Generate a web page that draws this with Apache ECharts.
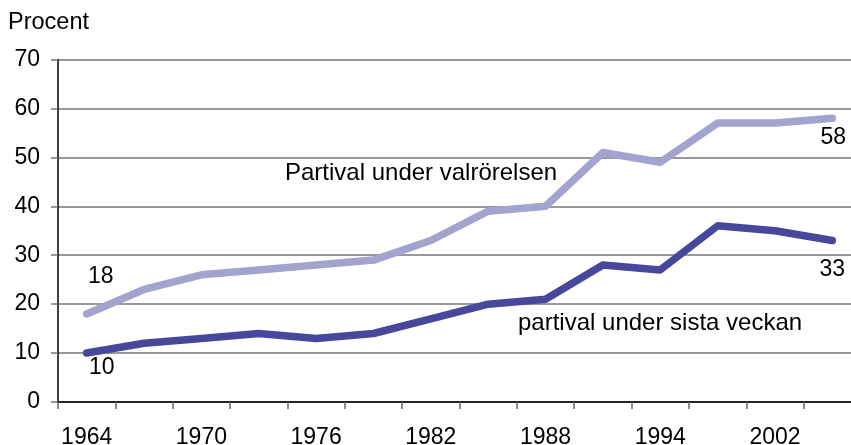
<!DOCTYPE html>
<html>
<head>
<meta charset="utf-8">
<script src="https://cdn.jsdelivr.net/npm/echarts@6/dist/echarts.min.js"></script>
<style>
	html, body { margin: 0; padding: 0; overflow: hidden; background: #fff; }
	#chart { width: 861px; height: 445px; }
</style>
</head>
<body>
<div id="chart"></div>
<script>
// valår
const years = ["1964", "1968", "1970", "1973", "1976", "1979", "1982", "1985", "1988", "1991", "1994", "1998", "2002", "2006"];
// andel (procent)
const valrorelsen = [18, 23, 26, 27, 28, 29, 33, 39, 40, 51, 49, 57, 57, 58];
const sistaVeckan = [10, 12, 13, 14, 13, 14, 17, 20, 21, 28, 27, 36, 35, 33];
const yTicks = { min: 0, max: 70, interval: 10 };

const font = "Liberation Sans, Arial, sans-serif";
const lightColor = "#a3a3d0";
const darkColor = "#47479b";

// label på första och sista punkten
function withEndLabels(values, firstOffset, lastOffset) {
	return values.map((v, i) => {
		let ob = { value: v };
		if (i === 0 || i === values.length - 1) {
			ob.label = {
				show: true,
				position: "inside",
				offset: i === 0 ? firstOffset : lastOffset,
				formatter: "{c}",
				color: "#000",
				fontSize: 23,
				fontFamily: font
			};
		}
		return ob;
	});
}

let myChart = echarts.init(document.getElementById("chart"), null, { renderer: "canvas" });
let option = {
	animation: false,
	grid: {
		left: 58,
		right: 0,
		top: 59.5,
		bottom: 43,
		containLabel: false,
		outerBoundsMode: "none"
	},
	graphic: [
		{
			type: "text",
			left: 8,
			top: 11,
			style: { text: "Procent", fill: "#000", font: "23.5px " + font }
		},
		{
			type: "text",
			x: 285,
			y: 173,
			style: { text: "Partival under valrörelsen", fill: "#000", font: "24px " + font, verticalAlign: "middle" }
		},
		{
			type: "text",
			x: 518,
			y: 323,
			style: { text: "partival under sista veckan", fill: "#000", font: "24px " + font, verticalAlign: "middle" }
		}
	],
	xAxis: {
		type: "category",
		data: years,
		boundaryGap: true,
		axisLine: { lineStyle: { color: "#000", width: 1.5 } },
		axisTick: {
			show: true,
			interval: 0,
			length: 7,
			lineStyle: { color: "#666", width: 1.5 }
		},
		axisLabel: {
			interval: 1,
			margin: 24,
			color: "#000",
			fontSize: 23,
			fontFamily: font
		},
		splitLine: { show: false }
	},
	yAxis: {
		type: "value",
		min: yTicks.min,
		max: yTicks.max,
		interval: yTicks.interval,
		axisLine: { show: true, lineStyle: { color: "#000", width: 1.5 } },
		axisTick: { show: true, length: 7, lineStyle: { color: "#777", width: 1.5 } },
		axisLabel: {
			margin: 18,
			color: "#000",
			fontSize: 23,
			fontFamily: font
		},
		splitLine: { show: true, lineStyle: { color: "#777", width: 1.5 } }
	},
	series: [
		{
			name: "Partival under valrörelsen",
			type: "line",
			symbol: "circle",
			symbolSize: 1,
			showAllSymbol: true,
			itemStyle: { color: lightColor },
			lineStyle: { color: lightColor, width: 7.5, cap: "round", join: "round" },
			data: withEndLabels(valrorelsen, [14, -37], [1, 19])
		},
		{
			name: "partival under sista veckan",
			type: "line",
			symbol: "circle",
			symbolSize: 1,
			showAllSymbol: true,
			itemStyle: { color: darkColor },
			lineStyle: { color: darkColor, width: 7.5, cap: "round", join: "round" },
			data: withEndLabels(sistaVeckan, [15, 15], [0, 29])
		}
	]
};
myChart.setOption(option);
</script>
</body>
</html>
